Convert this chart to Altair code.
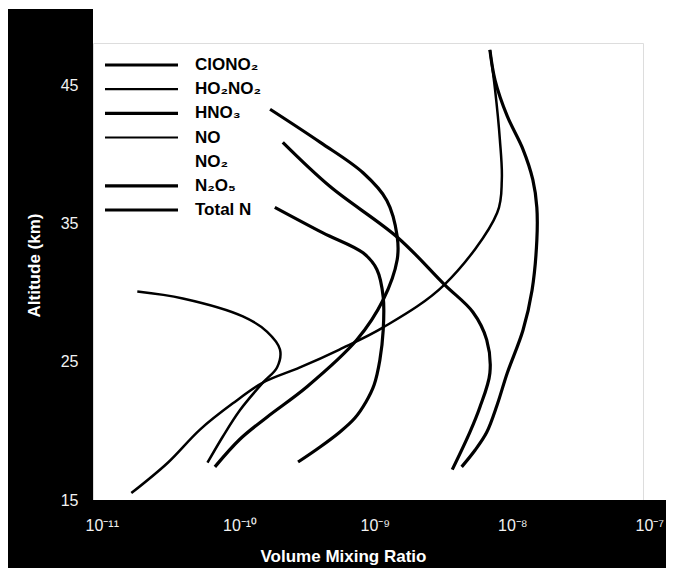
import json
import altair as alt
import pandas as pd

# ---- data: altitude (km) and volume mixing ratio ----
total_n_alt = [17.4, 18.6, 19.9, 21.9, 24.2, 27.3, 30.2, 33.8, 36.2, 38.2, 40.4, 42.8, 45.4, 47.6]
total_n_vmr = [4.8e-9, 6.0e-9, 7.3e-9, 8.7e-9, 1.03e-8, 1.34e-8, 1.56e-8, 1.69e-8, 1.69e-8,
               1.58e-8, 1.34e-8, 1.03e-8, 8.4e-9, 7.7e-9]

no_alt = [15.5, 17.7, 20.1, 22.0, 23.5, 24.6, 25.9, 27.5, 30.6, 35.8, 38.2, 41.1, 44.7, 47.6]
no_vmr = [1.9e-11, 3.5e-11, 6.0e-11, 1.04e-10, 1.72e-10, 3.2e-10, 6.2e-10, 1.29e-9,
          3.6e-9, 8.7e-9, 9.4e-9, 9.1e-9, 8.4e-9, 7.7e-9]

hno3_alt = [17.2, 19.9, 21.7, 24.2, 26.6, 28.6, 30.6, 34.0, 37.7, 40.9]
hno3_vmr = [4.1e-9, 5.5e-9, 6.5e-9, 7.7e-9, 7.3e-9, 5.8e-9, 3.6e-9, 1.65e-9, 5.3e-10, 2.4e-10]

n2o5_alt = [17.4, 19.4, 21.0, 23.2, 26.6, 29.5, 32.4, 34.1, 36.7, 38.7, 40.9, 43.3]
n2o5_vmr = [7.7e-11, 1.17e-10, 1.84e-10, 3.6e-10, 8.3e-10, 1.29e-9, 1.63e-9, 1.63e-9,
            1.37e-9, 9.2e-10, 4.5e-10, 1.94e-10]

clono2_alt = [17.75, 18.84, 19.93, 20.94, 22.1, 23.33, 25.14, 27.3, 29.7, 31.7, 32.9, 34.35, 36.2]
clono2_vmr = [3.1e-10, 4.48e-10, 6.25e-10, 8.03e-10, 9.66e-10, 1.107e-9, 1.22e-9, 1.29e-9,
              1.29e-9, 1.16e-9, 9.2e-10, 4.7e-10, 2.1e-10]

ho2no2_alt = [17.7, 19.6, 21.5, 23.5, 24.6, 25.9, 27.2, 28.3, 29.6, 30.1]
ho2no2_vmr = [6.8e-11, 8.8e-11, 1.17e-10, 1.72e-10, 2.18e-10, 2.29e-10, 1.84e-10,
              1.23e-10, 4.5e-11, 2.1e-11]

legend_labels = ["ClONO₂", "HO₂NO₂", "HNO₃", "NO", "NO₂", "N₂O₅", "Total N"]
legend_with_line = ["ClONO₂", "HO₂NO₂", "HNO₃", "NO", "N₂O₅", "Total N"]
thick_species = ["ClONO₂", "HNO₃", "N₂O₅", "Total N"]

x_tick_values = [1e-11, 1e-10, 1e-9, 1e-8, 1e-7]
x_tick_labels = ["10⁻¹¹", "10⁻¹⁰", "10⁻⁹", "10⁻⁸", "10⁻⁷"]
y_tick_values = [15, 25, 35, 45]

series = [
    ("Total N", total_n_alt, total_n_vmr),
    ("NO", no_alt, no_vmr),
    ("HNO₃", hno3_alt, hno3_vmr),
    ("N₂O₅", n2o5_alt, n2o5_vmr),
    ("ClONO₂", clono2_alt, clono2_vmr),
    ("HO₂NO₂", ho2no2_alt, ho2no2_vmr),
]
rows = []
for name, alts, vals in series:
    for a, v in zip(alts, vals):
        rows.append({"species": name, "alt": a, "vmr": v})
df = pd.DataFrame(rows)
legend_df = pd.DataFrame({"label": legend_labels})

FONT = "Liberation Sans"
W, H = 550, 457
PL, PT, PR, PB = 85, 35, 23, 68

x_scale = alt.Scale(type="log", domain=[1e-11, 1e-7], nice=False)
y_scale = alt.Scale(domain=[15, 48.1], nice=False, zero=False)
label_expr = json.dumps(x_tick_labels, ensure_ascii=False) + "[round(log(datum.value)/LN10) + 11]"

# black L-shaped frame outside the plot
black_left = alt.Chart(alt.Data(values=[{}])).mark_rect(color="black").encode(
    x=alt.value(-PL), x2=alt.value(0), y=alt.value(-PT + 1), y2=alt.value(H + PB)
)
black_bottom = alt.Chart(alt.Data(values=[{}])).mark_rect(color="black").encode(
    x=alt.value(-PL), x2=alt.value(W + PR), y=alt.value(H), y2=alt.value(H + PB)
)

curves = alt.Chart(df).mark_line(color="black", interpolate="catmull-rom").encode(
    x=alt.X("vmr:Q", scale=x_scale, axis=alt.Axis(
        values=x_tick_values, labelExpr=label_expr, title="Volume Mixing Ratio",
        ticks=False, domain=False, grid=False, labelColor="#f2f2f2", labelFont=FONT,
        labelFontSize=16, labelAlign="left", labelOffset=-8, labelPadding=17,
        labelBaseline="top", labelFlush=False, labelOverlap=False,
        titleColor="white", titleFont=FONT, titleFontWeight="bold", titleFontSize=17,
        titleX=250, titleY=56, titleAlign="center", titleBaseline="middle", zindex=1)),
    y=alt.Y("alt:Q", scale=y_scale, axis=alt.Axis(
        values=y_tick_values, title="Altitude (km)", ticks=False, domain=False, grid=False,
        labelColor="#f2f2f2", labelFont=FONT, labelFontSize=16, labelPadding=15,
        labelBaseline="middle", labelOverlap=False,
        titleColor="white", titleFont=FONT, titleFontWeight="bold", titleFontSize=17,
        titleX=-59, titleY=222, titleAngle=270, titleAlign="center",
        titleBaseline="middle", zindex=1)),
    detail="species:N",
    order=alt.Order("alt:Q"),
    strokeWidth=alt.condition(
        alt.FieldOneOfPredicate(field="species", oneOf=thick_species),
        alt.value(3.2), alt.value(2.5)),
)

leg_y = alt.Y("label:N", sort=legend_labels, axis=None,
              scale=alt.Scale(type="point", domain=legend_labels, range=[22, 167], padding=0))

legend_lines = alt.Chart(legend_df).transform_filter(
    alt.FieldOneOfPredicate(field="label", oneOf=legend_with_line)
).mark_rule(color="black").encode(
    x=alt.value(12), x2=alt.value(85), y=leg_y,
    strokeWidth=alt.condition(
        alt.FieldOneOfPredicate(field="label", oneOf=thick_species),
        alt.value(3.2), alt.value(2.2)),
)
legend_text = alt.Chart(legend_df).mark_text(
    align="left", baseline="middle", font=FONT, fontWeight="bold", fontSize=17, color="black"
).encode(x=alt.value(102), y=leg_y, text="label:N")

chart = alt.layer(
    black_left, black_bottom, curves, legend_lines, legend_text
).resolve_scale(y="independent").properties(
    width=W, height=H,
    autosize=alt.AutoSizeParams(type="none"),
    padding={"left": PL, "top": PT, "right": PR, "bottom": PB},
).configure_view(stroke="black", strokeWidth=2).configure(background="white")

chart.save("out.html", embed_options={"renderer": "svg", "actions": False})
